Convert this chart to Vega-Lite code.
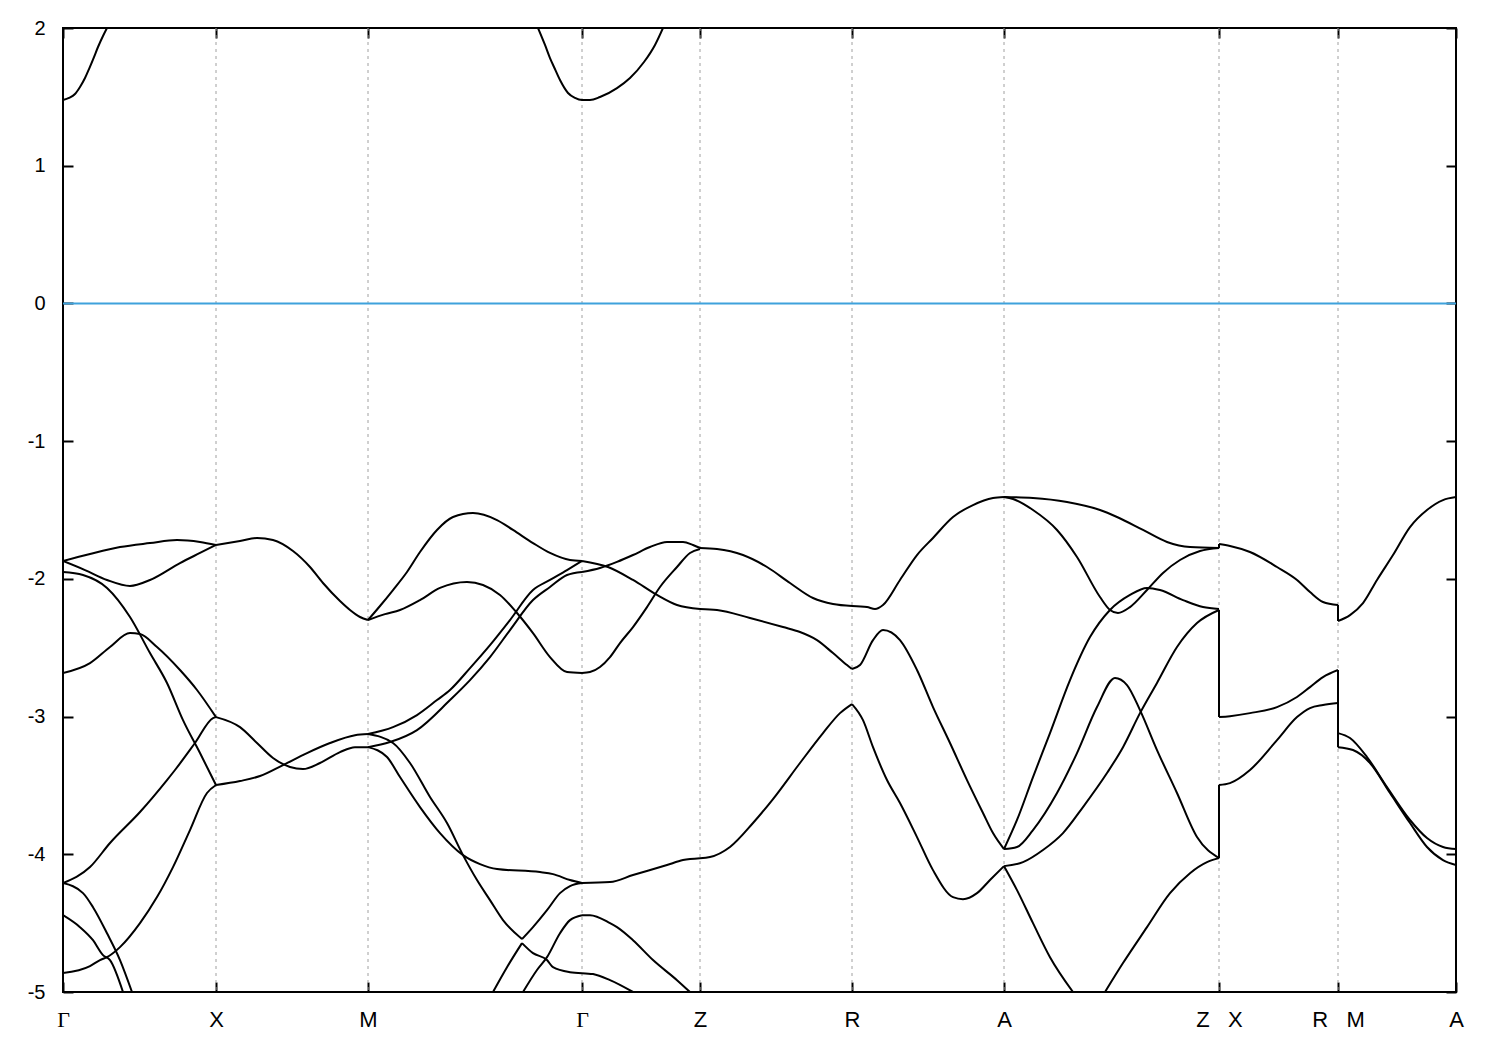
{
"$schema": "https://vega.github.io/schema/vega-lite/v6.json",
"width": 1393, "height": 964,
"autosize": {"type": "none"},
"padding": {"left": 63, "top": 28, "right": 44, "bottom": 58},
"background": "white",
"view": {"stroke": "black", "strokeWidth": 2},
"config": {"axis": {"labelFont": "Liberation Sans", "labelColor": "black", "tickColor": "black", "tickWidth": 2, "domain": false, "grid": false}},
"datasets": {
"grid": [{"k":153},{"k":305},{"k":519},{"k":637},{"k":789},{"k":941},{"k":1156},{"k":1275}],
"fermi": [{"e":0}],
"bands": [
{"b":"CB1","k":0,"e":1.477},{"b":"CB1","k":6,"e":1.492},{"b":"CB1","k":12,"e":1.521},{"b":"CB1","k":17,"e":1.572},{"b":"CB1","k":22,"e":1.637},{"b":"CB1","k":26,"e":1.702},{"b":"CB1","k":31,"e":1.789},{"b":"CB1","k":35,"e":1.862},{"b":"CB1","k":40,"e":1.942},{"b":"CB1","k":44,"e":2.0},
{"b":"CB2","k":475,"e":2.0},{"b":"CB2","k":482,"e":1.877},{"b":"CB2","k":487,"e":1.782},{"b":"CB2","k":491,"e":1.717},{"b":"CB2","k":497,"e":1.622},{"b":"CB2","k":505,"e":1.528},{"b":"CB2","k":512,"e":1.492},{"b":"CB2","k":519,"e":1.477},{"b":"CB2","k":527,"e":1.477},{"b":"CB2","k":537,"e":1.499},{"b":"CB2","k":554,"e":1.564},{"b":"CB2","k":567,"e":1.637},{"b":"CB2","k":581,"e":1.753},{"b":"CB2","k":592,"e":1.877},{"b":"CB2","k":600,"e":2.0},

{"b":"A1_1","k":0,"e":-1.870},{"b":"A1_1","k":27,"e":-1.819},{"b":"A1_1","k":57,"e":-1.769},{"b":"A1_1","k":87,"e":-1.740},{"b":"A1_1","k":114,"e":-1.718},{"b":"A1_1","k":137,"e":-1.732},{"b":"A1_1","k":153,"e":-1.754},
{"b":"A1_2","k":153,"e":-1.754},{"b":"A1_2","k":177,"e":-1.725},{"b":"A1_2","k":194,"e":-1.703},{"b":"A1_2","k":210,"e":-1.718},{"b":"A1_2","k":230,"e":-1.798},{"b":"A1_2","k":247,"e":-1.914},{"b":"A1_2","k":260,"e":-2.030},{"b":"A1_2","k":277,"e":-2.161},{"b":"A1_2","k":287,"e":-2.226},{"b":"A1_2","k":297,"e":-2.277},{"b":"A1_2","k":305,"e":-2.299},
{"b":"A1_3","k":305,"e":-2.299},{"b":"A1_3","k":317,"e":-2.197},{"b":"A1_3","k":330,"e":-2.081},{"b":"A1_3","k":344,"e":-1.950},{"b":"A1_3","k":357,"e":-1.805},{"b":"A1_3","k":374,"e":-1.645},{"b":"A1_3","k":390,"e":-1.551},{"b":"A1_3","k":410,"e":-1.522},{"b":"A1_3","k":434,"e":-1.573},{"b":"A1_3","k":450,"e":-1.645},{"b":"A1_3","k":470,"e":-1.740},{"b":"A1_3","k":487,"e":-1.812},{"b":"A1_3","k":507,"e":-1.863},{"b":"A1_3","k":519,"e":-1.870},
{"b":"A1_4","k":519,"e":-1.870},{"b":"A1_4","k":545,"e":-1.914},{"b":"A1_4","k":570,"e":-2.008},{"b":"A1_4","k":594,"e":-2.117},{"b":"A1_4","k":614,"e":-2.190},{"b":"A1_4","k":637,"e":-2.219},
{"b":"A1_5","k":637,"e":-2.219},{"b":"A1_5","k":654,"e":-2.226},{"b":"A1_5","k":687,"e":-2.284},{"b":"A1_5","k":720,"e":-2.350},{"b":"A1_5","k":737,"e":-2.386},{"b":"A1_5","k":754,"e":-2.445},{"b":"A1_5","k":770,"e":-2.539},{"b":"A1_5","k":784,"e":-2.626},{"b":"A1_5","k":789,"e":-2.655},
{"b":"A1_6","k":789,"e":-2.655},{"b":"A1_6","k":797,"e":-2.626},{"b":"A1_6","k":810,"e":-2.445},{"b":"A1_6","k":820,"e":-2.372},{"b":"A1_6","k":837,"e":-2.445},{"b":"A1_6","k":854,"e":-2.662},{"b":"A1_6","k":870,"e":-2.931},{"b":"A1_6","k":887,"e":-3.192},{"b":"A1_6","k":904,"e":-3.461},{"b":"A1_6","k":920,"e":-3.700},{"b":"A1_6","k":930,"e":-3.846},{"b":"A1_6","k":941,"e":-3.962},
{"b":"A1_7","k":941,"e":-3.962},{"b":"A1_7","k":954,"e":-3.751},{"b":"A1_7","k":970,"e":-3.439},{"b":"A1_7","k":987,"e":-3.120},{"b":"A1_7","k":1007,"e":-2.735},{"b":"A1_7","k":1027,"e":-2.423},{"b":"A1_7","k":1047,"e":-2.226},{"b":"A1_7","k":1067,"e":-2.117},{"b":"A1_7","k":1084,"e":-2.066},{"b":"A1_7","k":1097,"e":-2.081},{"b":"A1_7","k":1120,"e":-2.154},{"b":"A1_7","k":1140,"e":-2.205},{"b":"A1_7","k":1156,"e":-2.219},

{"b":"A2_1","k":0,"e":-1.870},{"b":"A2_1","k":22,"e":-1.936},{"b":"A2_1","k":44,"e":-2.008},{"b":"A2_1","k":67,"e":-2.052},{"b":"A2_1","k":87,"e":-2.008},{"b":"A2_1","k":117,"e":-1.885},{"b":"A2_1","k":137,"e":-1.812},{"b":"A2_1","k":153,"e":-1.754},
{"b":"A2_3","k":305,"e":-2.299},{"b":"A2_3","k":322,"e":-2.256},{"b":"A2_3","k":337,"e":-2.226},{"b":"A2_3","k":357,"e":-2.154},{"b":"A2_3","k":377,"e":-2.066},{"b":"A2_3","k":404,"e":-2.023},{"b":"A2_3","k":420,"e":-2.045},{"b":"A2_3","k":437,"e":-2.117},{"b":"A2_3","k":454,"e":-2.248},{"b":"A2_3","k":470,"e":-2.394},{"b":"A2_3","k":487,"e":-2.568},{"b":"A2_3","k":504,"e":-2.677},{"b":"A2_3","k":519,"e":-2.684},
{"b":"A2_4","k":519,"e":-2.684},{"b":"A2_4","k":527,"e":-2.677},{"b":"A2_4","k":537,"e":-2.640},{"b":"A2_4","k":547,"e":-2.568},{"b":"A2_4","k":557,"e":-2.466},{"b":"A2_4","k":570,"e":-2.350},{"b":"A2_4","k":584,"e":-2.205},{"b":"A2_4","k":597,"e":-2.059},{"b":"A2_4","k":614,"e":-1.914},{"b":"A2_4","k":627,"e":-1.812},{"b":"A2_4","k":637,"e":-1.783},

{"b":"B_1","k":0,"e":-1.950},{"b":"B_1","k":20,"e":-1.972},{"b":"B_1","k":44,"e":-2.066},{"b":"B_1","k":67,"e":-2.277},{"b":"B_1","k":87,"e":-2.539},{"b":"B_1","k":104,"e":-2.756},{"b":"B_1","k":120,"e":-3.026},{"b":"B_1","k":137,"e":-3.265},{"b":"B_1","k":153,"e":-3.497},
{"b":"B_2","k":153,"e":-3.497},{"b":"B_2","k":177,"e":-3.468},{"b":"B_2","k":197,"e":-3.432},{"b":"B_2","k":220,"e":-3.352},{"b":"B_2","k":244,"e":-3.265},{"b":"B_2","k":267,"e":-3.192},{"b":"B_2","k":292,"e":-3.135},{"b":"B_2","k":305,"e":-3.127},
{"b":"B_3","k":305,"e":-3.127},{"b":"B_3","k":330,"e":-3.077},{"b":"B_3","k":354,"e":-2.989},{"b":"B_3","k":374,"e":-2.880},{"b":"B_3","k":387,"e":-2.807},{"b":"B_3","k":407,"e":-2.648},{"b":"B_3","k":427,"e":-2.481},{"b":"B_3","k":447,"e":-2.299},{"b":"B_3","k":470,"e":-2.081},{"b":"B_3","k":487,"e":-2.008},{"b":"B_3","k":504,"e":-1.936},{"b":"B_3","k":519,"e":-1.870},

{"b":"C_1","k":0,"e":-2.684},{"b":"C_1","k":27,"e":-2.612},{"b":"C_1","k":47,"e":-2.495},{"b":"C_1","k":67,"e":-2.394},{"b":"C_1","k":77,"e":-2.401},{"b":"C_1","k":94,"e":-2.495},{"b":"C_1","k":117,"e":-2.662},{"b":"C_1","k":134,"e":-2.807},{"b":"C_1","k":153,"e":-3.004},
{"b":"C_2","k":153,"e":-3.004},{"b":"C_2","k":177,"e":-3.077},{"b":"C_2","k":194,"e":-3.192},{"b":"C_2","k":210,"e":-3.301},{"b":"C_2","k":227,"e":-3.366},{"b":"C_2","k":240,"e":-3.381},{"b":"C_2","k":257,"e":-3.337},{"b":"C_2","k":277,"e":-3.258},{"b":"C_2","k":292,"e":-3.222},{"b":"C_2","k":305,"e":-3.222},
{"b":"C_3","k":305,"e":-3.222},{"b":"C_3","k":327,"e":-3.185},{"b":"C_3","k":354,"e":-3.098},{"b":"C_3","k":387,"e":-2.880},{"b":"C_3","k":407,"e":-2.735},{"b":"C_3","k":427,"e":-2.568},{"b":"C_3","k":447,"e":-2.372},{"b":"C_3","k":470,"e":-2.154},{"b":"C_3","k":487,"e":-2.059},{"b":"C_3","k":504,"e":-1.972},{"b":"C_3","k":519,"e":-1.950},
{"b":"C_4","k":519,"e":-1.950},{"b":"C_4","k":537,"e":-1.921},{"b":"C_4","k":554,"e":-1.877},{"b":"C_4","k":570,"e":-1.827},{"b":"C_4","k":587,"e":-1.769},{"b":"C_4","k":604,"e":-1.732},{"b":"C_4","k":620,"e":-1.732},{"b":"C_4","k":630,"e":-1.754},{"b":"C_4","k":637,"e":-1.776},
{"b":"C_5","k":637,"e":-1.776},{"b":"C_5","k":654,"e":-1.783},{"b":"C_5","k":680,"e":-1.827},{"b":"C_5","k":704,"e":-1.914},{"b":"C_5","k":727,"e":-2.030},{"b":"C_5","k":750,"e":-2.139},{"b":"C_5","k":770,"e":-2.183},{"b":"C_5","k":789,"e":-2.197},
{"b":"C_6","k":789,"e":-2.197},{"b":"C_6","k":804,"e":-2.205},{"b":"C_6","k":812,"e":-2.219},{"b":"C_6","k":820,"e":-2.190},{"b":"C_6","k":837,"e":-2.008},{"b":"C_6","k":854,"e":-1.827},{"b":"C_6","k":870,"e":-1.703},{"b":"C_6","k":890,"e":-1.551},{"b":"C_6","k":910,"e":-1.464},{"b":"C_6","k":930,"e":-1.413},{"b":"C_6","k":941,"e":-1.406},
{"b":"C_7","k":941,"e":-1.406},{"b":"C_7","k":970,"e":-1.413},{"b":"C_7","k":1004,"e":-1.442},{"b":"C_7","k":1037,"e":-1.500},{"b":"C_7","k":1054,"e":-1.551},{"b":"C_7","k":1080,"e":-1.645},{"b":"C_7","k":1104,"e":-1.732},{"b":"C_7","k":1127,"e":-1.769},{"b":"C_7","k":1156,"e":-1.776},
{"b":"C_j1","k":1156,"e":-1.776},{"b":"C_j1","k":1156,"e":-1.747},
{"b":"C_8","k":1156,"e":-1.747},{"b":"C_8","k":1167,"e":-1.761},{"b":"C_8","k":1187,"e":-1.805},{"b":"C_8","k":1214,"e":-1.914},{"b":"C_8","k":1234,"e":-2.008},{"b":"C_8","k":1247,"e":-2.096},{"b":"C_8","k":1260,"e":-2.168},{"b":"C_8","k":1275,"e":-2.190},
{"b":"C_j2","k":1275,"e":-2.190},{"b":"C_j2","k":1275,"e":-2.306},
{"b":"C_9","k":1275,"e":-2.306},{"b":"C_9","k":1287,"e":-2.263},{"b":"C_9","k":1300,"e":-2.176},{"b":"C_9","k":1314,"e":-2.008},{"b":"C_9","k":1330,"e":-1.827},{"b":"C_9","k":1347,"e":-1.624},{"b":"C_9","k":1364,"e":-1.500},{"b":"C_9","k":1380,"e":-1.428},{"b":"C_9","k":1393,"e":-1.406},

{"b":"D","k":0,"e":-4.209},{"b":"D","k":27,"e":-4.093},{"b":"D","k":47,"e":-3.918},{"b":"D","k":77,"e":-3.693},{"b":"D","k":104,"e":-3.461},{"b":"D","k":112,"e":-3.388},{"b":"D","k":132,"e":-3.192},{"b":"D","k":150,"e":-3.011},{"b":"D","k":153,"e":-3.004},
{"b":"E","k":0,"e":-4.863},{"b":"E","k":27,"e":-4.812},{"b":"E","k":37,"e":-4.768},{"b":"E","k":44,"e":-4.747},{"b":"E","k":57,"e":-4.674},{"b":"E","k":77,"e":-4.500},{"b":"E","k":94,"e":-4.311},{"b":"E","k":110,"e":-4.093},{"b":"E","k":127,"e":-3.824},{"b":"E","k":144,"e":-3.555},{"b":"E","k":153,"e":-3.497},
{"b":"F","k":0,"e":-4.209},{"b":"F","k":20,"e":-4.282},{"b":"F","k":30,"e":-4.384},{"b":"F","k":44,"e":-4.573},{"b":"F","k":57,"e":-4.768},{"b":"F","k":69,"e":-5.0},
{"b":"G","k":0,"e":-4.442},{"b":"G","k":17,"e":-4.529},{"b":"G","k":30,"e":-4.624},{"b":"G","k":40,"e":-4.732},{"b":"G","k":47,"e":-4.768},{"b":"G","k":60,"e":-5.0},

{"b":"Ma_3a","k":305,"e":-3.127},{"b":"Ma_3a","k":330,"e":-3.192},{"b":"Ma_3a","k":347,"e":-3.337},{"b":"Ma_3a","k":367,"e":-3.584},{"b":"Ma_3a","k":384,"e":-3.773},{"b":"Ma_3a","k":400,"e":-4.006},{"b":"Ma_3a","k":414,"e":-4.187},{"b":"Ma_3a","k":427,"e":-4.333},{"b":"Ma_3a","k":440,"e":-4.478},{"b":"Ma_3a","k":459,"e":-4.616},
{"b":"Ma_3b","k":459,"e":-4.616},{"b":"Ma_3b","k":470,"e":-4.529},{"b":"Ma_3b","k":484,"e":-4.406},{"b":"Ma_3b","k":497,"e":-4.282},{"b":"Ma_3b","k":507,"e":-4.231},{"b":"Ma_3b","k":519,"e":-4.209},
{"b":"Ma_4","k":519,"e":-4.209},{"b":"Ma_4","k":547,"e":-4.202},{"b":"Ma_4","k":570,"e":-4.151},{"b":"Ma_4","k":604,"e":-4.078},{"b":"Ma_4","k":620,"e":-4.042},{"b":"Ma_4","k":637,"e":-4.028},
{"b":"Ma_5","k":637,"e":-4.028},{"b":"Ma_5","k":647,"e":-4.020},{"b":"Ma_5","k":667,"e":-3.947},{"b":"Ma_5","k":690,"e":-3.773},{"b":"Ma_5","k":710,"e":-3.599},{"b":"Ma_5","k":737,"e":-3.337},{"b":"Ma_5","k":760,"e":-3.120},{"b":"Ma_5","k":777,"e":-2.975},{"b":"Ma_5","k":789,"e":-2.909},
{"b":"Ma_6","k":789,"e":-2.909},{"b":"Ma_6","k":800,"e":-3.026},{"b":"Ma_6","k":810,"e":-3.222},{"b":"Ma_6","k":824,"e":-3.461},{"b":"Ma_6","k":837,"e":-3.628},{"b":"Ma_6","k":854,"e":-3.875},{"b":"Ma_6","k":870,"e":-4.115},{"b":"Ma_6","k":890,"e":-4.311},{"b":"Ma_6","k":900,"e":-4.326},{"b":"Ma_6","k":914,"e":-4.282},{"b":"Ma_6","k":927,"e":-4.187},{"b":"Ma_6","k":941,"e":-4.086},
{"b":"Ma_7","k":941,"e":-4.086},{"b":"Ma_7","k":954,"e":-4.260},{"b":"Ma_7","k":970,"e":-4.500},{"b":"Ma_7","k":987,"e":-4.747},{"b":"Ma_7","k":1010,"e":-5.0},

{"b":"Mb_3","k":305,"e":-3.222},{"b":"Mb_3","k":324,"e":-3.294},{"b":"Mb_3","k":337,"e":-3.439},{"b":"Mb_3","k":357,"e":-3.657},{"b":"Mb_3","k":377,"e":-3.846},{"b":"Mb_3","k":400,"e":-4.006},{"b":"Mb_3","k":417,"e":-4.071},{"b":"Mb_3","k":434,"e":-4.107},{"b":"Mb_3","k":477,"e":-4.129},{"b":"Mb_3","k":490,"e":-4.144},{"b":"Mb_3","k":507,"e":-4.187},{"b":"Mb_3","k":519,"e":-4.209},

{"b":"V1_a","k":430,"e":-5.0},{"b":"V1_a","k":444,"e":-4.820},{"b":"V1_a","k":459,"e":-4.645},
{"b":"V1_b","k":459,"e":-4.645},{"b":"V1_b","k":470,"e":-4.718},{"b":"V1_b","k":484,"e":-4.768},{"b":"V1_b","k":490,"e":-4.820},{"b":"V1_b","k":507,"e":-4.856},{"b":"V1_b","k":519,"e":-4.863},
{"b":"V1_c","k":519,"e":-4.863},{"b":"V1_c","k":530,"e":-4.870},{"b":"V1_c","k":547,"e":-4.914},{"b":"V1_c","k":570,"e":-5.0},
{"b":"V2_a","k":460,"e":-5.0},{"b":"V2_a","k":474,"e":-4.840},{"b":"V2_a","k":484,"e":-4.747},{"b":"V2_a","k":497,"e":-4.573},{"b":"V2_a","k":507,"e":-4.478},{"b":"V2_a","k":519,"e":-4.442},
{"b":"V2_b","k":519,"e":-4.442},{"b":"V2_b","k":527,"e":-4.442},{"b":"V2_b","k":547,"e":-4.500},{"b":"V2_b","k":554,"e":-4.529},{"b":"V2_b","k":570,"e":-4.624},{"b":"V2_b","k":590,"e":-4.768},{"b":"V2_b","k":614,"e":-4.914},{"b":"V2_b","k":627,"e":-5.0},

{"b":"L2_7","k":941,"e":-3.962},{"b":"L2_7","k":954,"e":-3.947},{"b":"L2_7","k":970,"e":-3.824},{"b":"L2_7","k":994,"e":-3.555},{"b":"L2_7","k":1014,"e":-3.265},{"b":"L2_7","k":1034,"e":-2.931},{"b":"L2_7","k":1052,"e":-2.720},{"b":"L2_7","k":1064,"e":-2.771},{"b":"L2_7","k":1077,"e":-2.953},{"b":"L2_7","k":1094,"e":-3.243},{"b":"L2_7","k":1114,"e":-3.555},{"b":"L2_7","k":1134,"e":-3.875},{"b":"L2_7","k":1156,"e":-4.028},
{"b":"L2_j1","k":1156,"e":-4.028},{"b":"L2_j1","k":1156,"e":-3.497},
{"b":"L2_8","k":1156,"e":-3.497},{"b":"L2_8","k":1167,"e":-3.483},{"b":"L2_8","k":1187,"e":-3.388},{"b":"L2_8","k":1214,"e":-3.171},{"b":"L2_8","k":1234,"e":-3.004},{"b":"L2_8","k":1247,"e":-2.938},{"b":"L2_8","k":1260,"e":-2.916},{"b":"L2_8","k":1275,"e":-2.902},
{"b":"L2_j2","k":1275,"e":-2.902},{"b":"L2_j2","k":1275,"e":-3.222},
{"b":"L2_9","k":1275,"e":-3.222},{"b":"L2_9","k":1290,"e":-3.243},{"b":"L2_9","k":1307,"e":-3.337},{"b":"L2_9","k":1327,"e":-3.555},{"b":"L2_9","k":1347,"e":-3.773},{"b":"L2_9","k":1364,"e":-3.947},{"b":"L2_9","k":1380,"e":-4.042},{"b":"L2_9","k":1393,"e":-4.078},

{"b":"L3_7","k":941,"e":-4.086},{"b":"L3_7","k":960,"e":-4.057},{"b":"L3_7","k":980,"e":-3.969},{"b":"L3_7","k":1000,"e":-3.846},{"b":"L3_7","k":1020,"e":-3.657},{"b":"L3_7","k":1044,"e":-3.410},{"b":"L3_7","k":1060,"e":-3.222},{"b":"L3_7","k":1077,"e":-2.975},{"b":"L3_7","k":1094,"e":-2.756},{"b":"L3_7","k":1114,"e":-2.495},{"b":"L3_7","k":1134,"e":-2.321},{"b":"L3_7","k":1156,"e":-2.226},
{"b":"L3_j1","k":1156,"e":-2.226},{"b":"L3_j1","k":1156,"e":-3.004},
{"b":"L3_8","k":1156,"e":-3.004},{"b":"L3_8","k":1167,"e":-2.997},{"b":"L3_8","k":1187,"e":-2.975},{"b":"L3_8","k":1214,"e":-2.931},{"b":"L3_8","k":1234,"e":-2.858},{"b":"L3_8","k":1247,"e":-2.786},{"b":"L3_8","k":1260,"e":-2.713},{"b":"L3_8","k":1275,"e":-2.662},
{"b":"L3_j2","k":1275,"e":-2.662},{"b":"L3_j2","k":1275,"e":-3.120},
{"b":"L3_9","k":1275,"e":-3.120},{"b":"L3_9","k":1287,"e":-3.156},{"b":"L3_9","k":1304,"e":-3.294},{"b":"L3_9","k":1324,"e":-3.512},{"b":"L3_9","k":1347,"e":-3.751},{"b":"L3_9","k":1364,"e":-3.882},{"b":"L3_9","k":1380,"e":-3.947},{"b":"L3_9","k":1393,"e":-3.962},

{"b":"T2_7","k":941,"e":-1.406},{"b":"T2_7","k":950,"e":-1.420},{"b":"T2_7","k":970,"e":-1.500},{"b":"T2_7","k":994,"e":-1.645},{"b":"T2_7","k":1014,"e":-1.841},{"b":"T2_7","k":1037,"e":-2.132},{"b":"T2_7","k":1047,"e":-2.226},{"b":"T2_7","k":1055,"e":-2.248},{"b":"T2_7","k":1067,"e":-2.205},{"b":"T2_7","k":1084,"e":-2.081},{"b":"T2_7","k":1100,"e":-1.957},{"b":"T2_7","k":1117,"e":-1.863},{"b":"T2_7","k":1137,"e":-1.798},{"b":"T2_7","k":1156,"e":-1.776},
{"b":"L5_7","k":1042,"e":-5.0},{"b":"L5_7","k":1060,"e":-4.790},{"b":"L5_7","k":1084,"e":-4.529},{"b":"L5_7","k":1107,"e":-4.282},{"b":"L5_7","k":1127,"e":-4.137},{"b":"L5_7","k":1144,"e":-4.057},{"b":"L5_7","k":1156,"e":-4.028}
]
},
"layer": [
{"data": {"name": "grid"},
 "mark": {"type": "rule", "color": "#a0a0a0", "strokeWidth": 1, "strokeDash": [3, 4]},
 "encoding": {"x": {"field": "k", "type": "quantitative", "scale": {"domain": [0, 1393], "nice": false, "zero": false},
   "axis": {"orient": "bottom", "title": null, "values": [0,153,305,519,637,789,941,1156,1275,1393],
     "labelExpr": "datum.value == 0 ? 'Γ' : datum.value == 153 ? 'X' : datum.value == 305 ? 'M' : datum.value == 519 ? 'Γ' : datum.value == 637 ? 'Z' : datum.value == 789 ? 'R' : datum.value == 941 ? 'A' : datum.value == 1156 ? 'Z\u00a0\u00a0\u00a0X' : datum.value == 1275 ? 'R\u00a0\u00a0\u00a0M' : 'A'",
     "labelFont": {"condition": {"test": "datum.value == 0 || datum.value == 519", "value": "Liberation Serif"}, "value": "Liberation Sans"},
     "labelFontSize": 22, "tickSize": -10, "labelPadding": 27, "labelFlush": false, "labelOverlap": false, "labelBound": false}}}
},
{"data": {"name": "fermi"},
 "mark": {"type": "rule", "color": "#3fa2dc", "strokeWidth": 2},
 "encoding": {"y": {"field": "e", "type": "quantitative", "scale": {"domain": [-5, 2], "nice": false, "zero": false},
   "axis": {"orient": "left", "title": null, "values": [-5,-4,-3,-2,-1,0,1,2], "labelExpr": "'' + datum.value",
     "labelFontSize": 20, "tickSize": -10, "labelPadding": 28, "labelFlush": false, "labelOverlap": false}}}
},
{"data": {"name": "bands"},
 "mark": {"type": "line", "color": "black", "strokeWidth": 2, "clip": true, "interpolate": "monotone"},
 "encoding": {
   "x": {"field": "k", "type": "quantitative", "scale": {"domain": [0, 1393], "nice": false, "zero": false},
     "axis": {"orient": "top", "title": null, "values": [0,153,305,519,637,789,941,1156,1275,1393], "labels": false, "tickSize": -10}},
   "y": {"field": "e", "type": "quantitative", "scale": {"domain": [-5, 2], "nice": false, "zero": false},
     "axis": {"orient": "right", "title": null, "values": [-5,-4,-3,-2,-1,0,1,2], "labels": false, "tickSize": -10}},
   "detail": {"field": "b", "type": "nominal"},
   "order": {"value": null}
 }
}
],
"resolve": {"axis": {"x": "independent", "y": "independent"}}
}
